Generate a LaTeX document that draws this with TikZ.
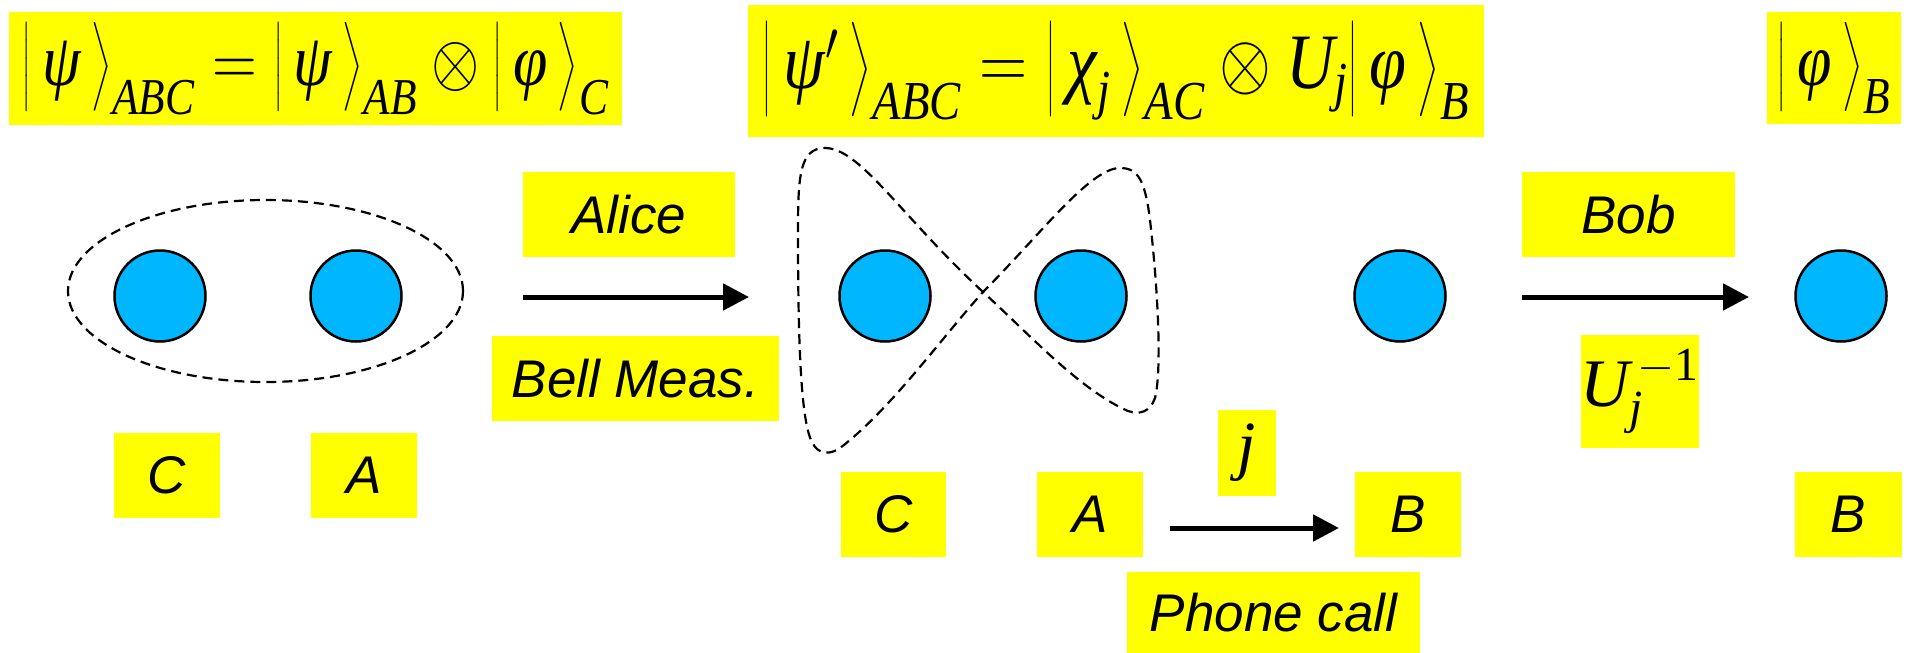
\RequirePackage{fix-cm}
\documentclass[tikz,border=0pt]{standalone}
\usepackage{amsmath}
\usepackage{fontspec}
\usepackage{graphicx}
\usetikzlibrary{arrows.meta}
\newfontfamily\tms{Liberation Serif}
\newfontfamily\hlv{Liberation Sans}
\definecolor{ylw}{RGB}{255,255,0}
\definecolor{qblue}{RGB}{0,183,255}
\newcommand{\ti}[1]{\text{\tms\itshape #1}}
\newcommand{\dlm}[1]{\left#1\vcenter to 74pt{}\right.}
\newcommand{\myket}[2]{\mathopen{\dlm|}\,#1\,\mathclose{\dlm\rangle}_{#2}}
\newcommand{\fitbox}[3]{\raisebox{-4pt}{\resizebox*{#1}{#2}{#3}}}
\tikzset{
  ybox/.style={fill=ylw, inner sep=0pt, align=center},
  lab/.style={ybox, font=\hlv\itshape\fontsize{53}{60}\selectfont},
  frm/.style={ybox, font=\fontsize{62}{70}\selectfont},
  qcirc/.style={circle, minimum size=91pt, inner sep=0pt, fill=qblue, draw=black, line width=2.5pt},
  dsh/.style={draw=black, line width=2.2pt, dash pattern=on 10pt off 6pt},
  arr/.style={line width=5pt, -{Triangle[length=26pt,width=26pt]}}
}
\begin{document}
\begin{tikzpicture}[x=1pt,y=-1pt]
\useasboundingbox (0,0) rectangle (1911,653);
% formula boxes
\node[frm, minimum width=613pt, minimum height=113pt] (f1) at (315.5,68.5)
  {\fitbox{586pt}{92pt}{$\myket{\ti{ψ}}{\ti{ABC}} = \myket{\ti{ψ}}{\ti{AB}} \otimes \myket{\ti{φ}}{\ti{C}}$}};
\node[frm, minimum width=736pt, minimum height=132pt] (f2) at (1116,71)
  {\fitbox{707pt}{98pt}{$\myket{\ti{ψ}'}{\ti{ABC}} = \myket{\ti{χ}_{\ti{j}}}{\ti{AC}} \otimes \ti{U}_{\ti{j}}\myket{\ti{φ}}{\ti{B}}$}};
\node[frm, minimum width=134pt, minimum height=112pt] (f3) at (1834,68)
  {\fitbox{113pt}{92pt}{$\myket{\ti{φ}}{\ti{B}}$}};
% ellipse and circles (left)
\draw[dsh] (265.5,291) ellipse [x radius=197.5pt, y radius=91pt];
\node[qcirc] (c1) at (160,296) {};
\node[qcirc] (a1) at (356,296) {};
\node[lab, minimum width=106pt, minimum height=85pt] (lc1) at (167,475.5) {C};
\node[lab, minimum width=106pt, minimum height=85pt] (la1) at (364,475.5) {A};
% Alice arrow
\node[lab, minimum width=212pt, minimum height=85pt] (alice) at (629,214.5) {Alice};
\node[lab, minimum width=287pt, minimum height=85pt] (bell) at (635.5,378.5) {Bell Meas.};
\coordinate (s1) at (523,297);
\coordinate (e1) at (749,297);
\draw[arr] (s1) -- (e1);
% bowtie
\draw[dsh] (983,292) .. controls (900,215) and (860,148) .. (825,148)
  .. controls (800,148) and (798,175) .. (798,230)
  .. controls (798,330) and (800,420) .. (812,442)
  .. controls (818,455) and (830,455) .. (840,448)
  .. controls (890,410) and (940,340) .. (983,292)
  .. controls (1040,235) and (1090,168) .. (1120,168)
  .. controls (1138,168) and (1145,180) .. (1150,220)
  .. controls (1158,290) and (1162,370) .. (1155,398)
  .. controls (1150,412) and (1140,415) .. (1128,411)
  .. controls (1080,390) and (1030,335) .. (983,292) -- cycle;
\node[qcirc] (c2) at (885,296) {};
\node[qcirc] (a2) at (1081,296) {};
\node[qcirc] (b2) at (1400,296) {};
\node[lab, minimum width=105pt, minimum height=85pt] (lc2) at (893.5,514.5) {C};
\node[lab, minimum width=106pt, minimum height=85pt] (la2) at (1090,514.5) {A};
\node[lab, minimum width=106pt, minimum height=85pt] (lb2) at (1408,514.5) {B};
% phone call
\node[ybox, minimum width=58pt, minimum height=86pt, font=\fontsize{66}{72}\selectfont] (jj) at (1247,453) {$\ti{j}$};
\node[lab, minimum width=293pt, minimum height=81pt] (phone) at (1273.5,612.5) {Phone call};
\coordinate (s3) at (1170,528);
\coordinate (e3) at (1339,528);
\draw[arr] (s3) -- (e3);
% Bob
\node[lab, minimum width=213pt, minimum height=85pt] (bob) at (1628.5,214.5) {Bob};
\node[ybox, minimum width=116pt, minimum height=113pt, font=\fontsize{68}{76}\selectfont] (uu) at (1640,391.5) {\raisebox{-10pt}{$\ti{U}_{\ti{j}}^{\,-\text{\tms 1}}$}};
\coordinate (s2) at (1522,297);
\coordinate (e2) at (1749,297);
\draw[arr] (s2) -- (e2);
\node[qcirc] (b3) at (1841,296) {};
\node[lab, minimum width=107pt, minimum height=85pt] (lb3) at (1848.5,514.5) {B};
\end{tikzpicture}
\end{document}
